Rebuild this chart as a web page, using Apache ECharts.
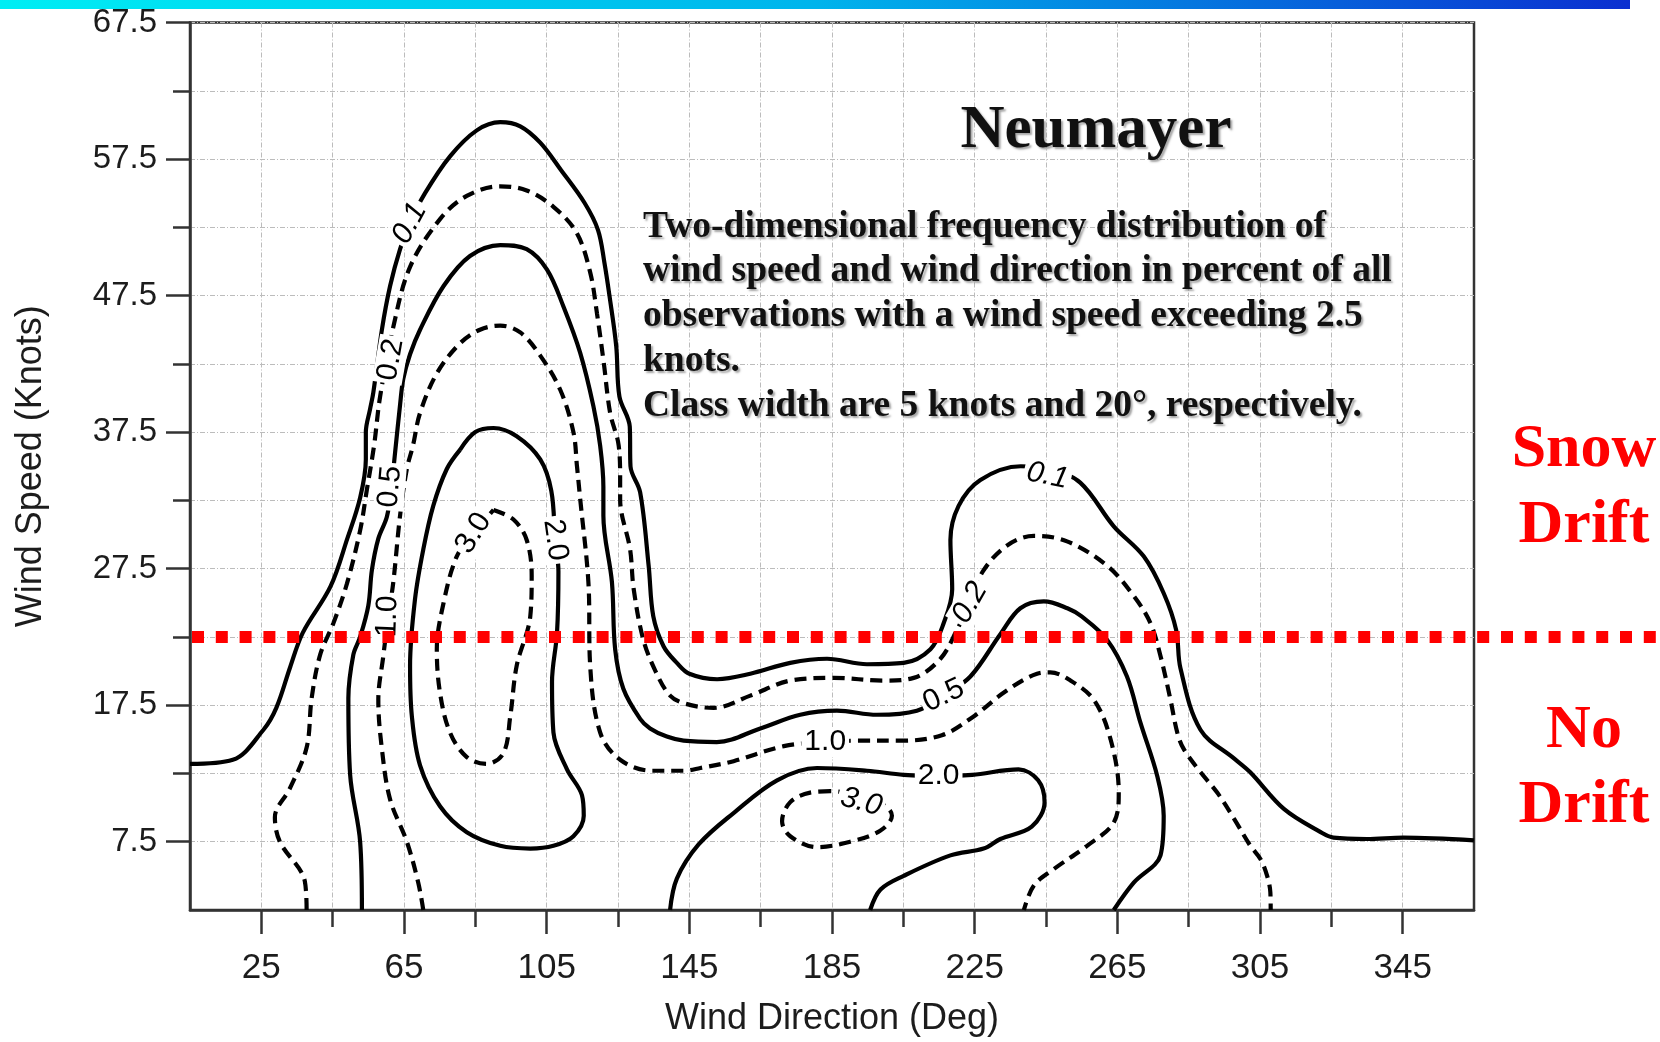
<!DOCTYPE html>
<html><head><meta charset="utf-8">
<script src="https://cdn.jsdelivr.net/npm/echarts@6.0.0/dist/echarts.min.js"></script>
<style>html,body{margin:0;padding:0;background:#fff}#chart{width:1660px;height:1042px}</style>
</head><body><div id="chart"></div>
<script>
// ---------- axis ticks / labels ----------
const dirRange = [5, 365];
const speedRange = [2.5, 67.5];
const dirLabels = [25, 65, 105, 145, 185, 225, 265, 305, 345];
const dirMinorTicks = [45, 85, 125, 165, 205, 245, 285, 325];
const speedLabels = [7.5, 17.5, 27.5, 37.5, 47.5, 57.5, 67.5];
const speedMinorTicks = [12.5, 22.5, 32.5, 42.5, 52.5, 62.5];
const driftThreshold = 22.5;

// ---------- contour lines [direction deg, speed knots] ----------
const contour01 = [[5,13.2],[17,13.5],[25.6,15.7],[29.2,17.3],[33.1,20.3],[36.6,22.8],[44.4,26.2],[49.1,29.7],[52.7,32.7],[54.3,35.5],[54.3,37.5],[55.5,39.2],[56.4,40.4],[58.8,45.0],[61.1,48.2],[63.9,50.9],[66.6,52.8],[70.9,55.0],[77.9,57.7],[85.4,59.6],[92,60.2],[97.6,59.9],[103.2,58.7],[109,56.7],[115.6,54.3],[119.4,52.3],[121.2,49.9],[122.6,47.5],[124.5,43.8],[125.4,40.1],[128.3,37.9],[128.5,35.0],[131.2,33.1],[133.6,27.7],[134.9,24.0],[137.8,21.8],[141.5,20.6],[145,19.8],[152.8,19.4],[162.1,19.8],[173.3,20.6],[183.6,20.9],[194.8,20.5],[205.1,20.6],[212.6,21.6],[216.3,23.5],[218.7,26.0],[218.2,29.6],[220.5,32.1],[226.6,34.0],[237.9,35.0],[246,34.8],[254.6,33.8],[264,30.6],[272.4,28.4],[278,25.7],[281.5,23],[282.7,20.2],[288.3,15.7],[297.7,13.6],[302.2,12.6],[311.7,9.9],[322,8.2],[325.6,7.8],[334.9,7.7],[345.2,7.8],[365,7.6]];
const contour02 = [[37.7,2.5],[37.2,4.6],[30.2,7.5],[28.8,9.3],[33.0,11.4],[37.7,14.4],[39.1,18.0],[41.5,21.2],[45.2,23.5],[49.0,26.4],[52.7,30.3],[54.6,33.3],[56.6,36.5],[58.3,40.1],[62.0,45.2],[66.7,49.6],[75.1,53.1],[82.6,54.8],[92,55.5],[99.4,55.2],[106.9,54.0],[113.4,52.1],[117.2,49.2],[119.1,46.2],[121,42.6],[122.8,38.9],[125.2,36.5],[125.6,34.0],[125.6,32.6],[128.4,28.9],[129.4,26.0],[132.1,22.3],[135.5,20.0],[139.6,18.2],[144,17.6],[151.8,17.3],[162.1,18.2],[173.3,19.3],[185.4,19.5],[199.5,19.3],[207.9,19.5],[215.4,20.9],[220,23],[223.7,25.0],[227.3,27.3],[234.1,29.2],[241.6,29.9],[250.9,29.5],[262.2,27.7],[269.6,25.5],[274.3,23.5],[277.1,21.1],[279.9,17.9],[281.8,15.5],[283.6,14.3],[288.3,12.6],[293,11.1],[297.7,9.2],[302.3,7.2],[305.2,6.2],[307,5.0],[307.9,3.8],[308,2.5]];
const contour05 = [[53.2,2.5],[52.7,7.5],[49.9,12.4],[49.4,18.0],[50.8,21.2],[52.7,22.5],[55.0,24.8],[56.0,27.4],[57.8,29.7],[60.2,31.3],[61.5,33.5],[62.5,36.0],[63.9,39.5],[64.8,41.4],[66.7,43.2],[69.5,45.0],[76.1,48.2],[83.5,50.4],[92.0,51.2],[99.4,50.9],[105.1,49.4],[109.7,46.7],[114.4,43.3],[118.1,39.4],[120,36.5],[120.9,33.5],[120.9,31.4],[123.3,26.5],[124.2,21.6],[126.5,18.7],[131.2,16.5],[134,15.8],[138.7,15.2],[143.4,14.9],[152.7,14.8],[164.9,15.8],[176.1,16.8],[186.4,17.1],[197.6,16.8],[208.8,17.1],[216.3,18.2],[223.8,19.6],[232.2,22.7],[237.8,24.6],[244.4,25.1],[251,24.6],[255,24.0],[262.1,22.3],[267.7,19.6],[271.5,16.2],[276.2,12.3],[278.0,9.4],[277.1,6.5],[269.6,4.5],[264,2.5]];
const contour10 = [[70.4,2.5],[69.0,4.5],[65.8,7.5],[61.1,10.6],[58.8,14.3],[57.8,17.9],[59.2,21.1],[60.6,24.0],[62.0,26.5],[63.9,31.4],[65.8,34.8],[67.5,36.5],[69.5,38.9],[74.2,41.8],[80.7,44.0],[86.3,45.0],[92.0,45.3],[97.6,44.8],[103.2,43.1],[108.8,40.6],[112.5,37.5],[113.5,35],[114.4,32.6],[116.7,26.5],[117.2,20.4],[120,15.5],[125.6,13.5],[134.5,12.7],[143.4,12.7],[148.1,12.9],[157.4,13.4],[171.5,14.5],[183.1,14.8],[192,14.9],[204.5,14.9],[215.8,15.3],[224.3,16.6],[233.6,18.5],[242.5,19.8],[246.2,19.9],[251.3,19.4],[258.4,17.9],[263.1,15.0],[265.4,11.1],[264,8.9],[256.5,7.2],[247.2,5.5],[241.6,4.3],[238.8,2.5]];
const contour20a = [[80.7,36.2],[85,37.5],[90.1,37.8],[96.6,37.2],[103.2,35.5],[106.3,33.2],[107.4,29.6],[108.3,27.3],[107.9,22.8],[106.5,19.2],[106.9,15.5],[110.7,12.8],[114.9,10.9],[115.4,9.4],[112.5,7.9],[106.9,7.2],[100.4,7.0],[92.0,7.2],[82.6,8.2],[75.1,10.1],[69.5,13.1],[67.2,16.7],[66.7,20.4],[68.1,25.3],[70.4,28.9],[73.2,32.1],[77.0,34.8],[80.7,36.2]];
const contour20b = [[139.6,2.5],[141.5,4.8],[147.6,7.3],[157.4,9.6],[169.6,12.0],[180.8,12.9],[194.8,12.7],[205.1,12.4],[214.9,12.3],[224.3,12.4],[237.3,12.8],[242.8,12.0],[244.6,10.4],[241,8.6],[232.2,7.7],[227.5,7.0],[218.2,6.5],[205.1,5.0],[198.6,4.0],[195.7,2.5]];
const contour30a = [[90.1,31.8],[95.7,31.1],[99.4,29.6],[100.8,27.0],[100.4,24.0],[96.6,20.4],[94.8,16.7],[92.9,14.0],[88.2,13.2],[82.6,13.7],[77.9,15.5],[75.1,18.4],[74.2,21.6],[76.1,25.0],[79.8,28.4],[84.5,30.1],[90.1,31.8]];
const contour30b = [[184.5,11.2],[178.9,11.1],[173.3,10.4],[171.0,9.0],[173.3,7.9],[180.8,7.1],[190.1,7.5],[198.5,8.3],[201.8,9.4],[200.9,9.9],[197,10.5],[192.9,10.5],[188.5,11.1],[184.5,11.2]];

// contour inline labels: text and data position
const labelTexts = ['0.1','0.2','0.5','1.0','3.0','2.0','0.1','0.2','0.5','1.0','2.0','3.0'];
const labelPoints = [[66.6,52.8],[61.3,42.8],[61.1,33.5],[60.4,24.0],[84.5,30.1],[107.4,29.6],[245.4,34.3],[223.7,25.0],[216.3,18.2],[183.1,14.8],[214.9,12.3],[193.2,10.4]];

// ---------- styling (not data) ----------
const labelRot = [62, 80, 85, 88, 58, -82, -12, 60, 25, 0, 0, -15];
const labelItalic = [true,false,false,false,false,false,true,true,false,false,false,true];
const contourDefs = [
  {pts: contour01, dashed: false}, {pts: contour02, dashed: true},
  {pts: contour05, dashed: false}, {pts: contour10, dashed: true},
  {pts: contour20a, dashed: false}, {pts: contour20b, dashed: false},
  {pts: contour30a, dashed: true}, {pts: contour30b, dashed: true}
];

const axisColor = '#333';
const textColor = '#1c1c1c';
const sans = '"Liberation Sans", Arial, sans-serif';
const serif = '"Liberation Serif", "Times New Roman", serif';
const gridLine = {show: true, lineStyle: {color: '#bcbcbc', width: 1, type: [5, 2, 1, 2]}};

const chart = echarts.init(document.getElementById('chart'), null, {renderer: 'canvas'});

const series = contourDefs.map(c => ({
  type: 'line', data: c.pts, showSymbol: false, symbol: 'none', smooth: 0.35,
  lineStyle: {color: '#000', width: 4.2, type: c.dashed ? [12, 7] : 'solid', cap: 'butt'},
  silent: true, animation: false, z: 3, xAxisIndex: 0, yAxisIndex: 0
}));
series.push({
  type: 'custom', silent: true, animation: false, z: 6, clip: false,
  data: labelPoints.map((p, i) => [p[0], p[1], i]),
  renderItem: function (params, api) {
    const idx = api.value(2);
    const pt = api.coord([api.value(0), api.value(1)]);
    return {
      type: 'text', x: pt[0], y: pt[1], rotation: labelRot[idx] * Math.PI / 180,
      style: {
        text: labelTexts[idx], fill: '#000', align: 'center', verticalAlign: 'middle',
        font: (labelItalic[idx] ? 'italic ' : '') + '30px ' + sans,
        backgroundColor: '#fff', padding: [0, 3]
      }
    };
  }
});

const option = {
  backgroundColor: '#fff',
  animation: false,
  grid: {left: 190, right: 186, top: 22.5, bottom: 131, show: true, borderColor: axisColor, borderWidth: 2.5, containLabel: false},
  xAxis: [
    {
      type: 'value', gridIndex: 0, position: 'bottom', min: dirRange[0], max: dirRange[1],
      axisLine: {show: true, onZero: false, lineStyle: {color: axisColor, width: 2.5}},
      axisTick: {show: true, customValues: dirLabels, length: 24, lineStyle: {color: axisColor, width: 2.5}},
      axisLabel: {show: true, customValues: dirLabels, margin: 41, fontSize: 35, fontFamily: sans, color: textColor},
      splitLine: gridLine,
      name: 'Wind Direction (Deg)', nameLocation: 'middle', nameGap: 91, nameMoveOverlap: false,
      nameTextStyle: {fontSize: 36, fontFamily: sans, color: textColor}
    },
    {
      type: 'value', gridIndex: 0, position: 'bottom', min: dirRange[0], max: dirRange[1],
      axisLine: {show: false, onZero: false},
      axisTick: {show: true, customValues: dirMinorTicks, length: 17, lineStyle: {color: axisColor, width: 2.5}},
      axisLabel: {show: false},
      splitLine: gridLine
    }
  ],
  yAxis: [
    {
      type: 'value', gridIndex: 0, position: 'left', min: speedRange[0], max: speedRange[1],
      axisLine: {show: true, onZero: false, lineStyle: {color: axisColor, width: 2.5}},
      axisTick: {show: true, customValues: speedLabels, length: 24, lineStyle: {color: axisColor, width: 2.5}},
      axisLabel: {show: true, customValues: speedLabels, margin: 33, fontSize: 33, fontFamily: sans, color: textColor},
      splitLine: gridLine,
      name: 'Wind Speed (Knots)', nameLocation: 'middle', nameGap: 141, nameRotate: 90, nameMoveOverlap: false,
      nameTextStyle: {fontSize: 36, fontFamily: sans, color: textColor}
    },
    {
      type: 'value', gridIndex: 0, position: 'left', min: speedRange[0], max: speedRange[1],
      axisLine: {show: false, onZero: false},
      axisTick: {show: true, customValues: speedMinorTicks, length: 17, lineStyle: {color: axisColor, width: 2.5}},
      axisLabel: {show: false},
      splitLine: gridLine
    }
  ],
  series: series
};
chart.setOption(option);

// ---------- annotations ----------
const start = chart.convertToPixel({xAxisIndex: 0, yAxisIndex: 0}, [dirRange[0], driftThreshold]);
const shadow = {textShadowColor: 'rgba(0,0,0,0.35)', textShadowBlur: 2, textShadowOffsetX: 2, textShadowOffsetY: 2};
const descLines = [
  'Two-dimensional frequency distribution of',
  'wind speed and wind direction in percent of all',
  'observations with a wind speed exceeding 2.5',
  'knots.',
  'Class width are 5 knots and 20°, respectively.'
];
const graphics = [
  {type: 'rect', z: 50, shape: {x: 0, y: 0, width: 1630, height: 9},
   style: {fill: new echarts.graphic.LinearGradient(0, 0, 1, 0, [
     {offset: 0, color: '#00eef4'}, {offset: 0.5, color: '#00b4ec'}, {offset: 1, color: '#0b2fd0'}])}},
  {type: 'text', z: 50, style: Object.assign({text: 'Neumayer', x: 1096, y: 131, align: 'center', verticalAlign: 'middle',
    font: 'bold 61px ' + serif, fill: '#111'}, shadow)},
  {type: 'line', z: 60, shape: {x1: start[0] + 2, y1: start[1], x2: 1660, y2: start[1]},
   style: {stroke: '#ff0000', lineWidth: 12, lineDash: [12, 11.8], lineCap: 'butt'}}
];
descLines.forEach((t, i) => {
  graphics.push({type: 'text', z: 50, style: Object.assign({text: t, x: 643, y: 227 + i * 44.8, align: 'left', verticalAlign: 'middle',
    font: 'bold 37.5px ' + serif, fill: '#111'}, shadow)});
});
[['Snow', 450], ['Drift', 526], ['No', 731], ['Drift', 806]].forEach(([t, y]) => {
  graphics.push({type: 'text', z: 50, style: {text: t, x: 1584, y: y, align: 'center', verticalAlign: 'middle',
    font: 'bold 62px ' + serif, fill: '#ff0000'}});
});
chart.setOption({graphic: {elements: graphics}});
</script>
</body></html>
